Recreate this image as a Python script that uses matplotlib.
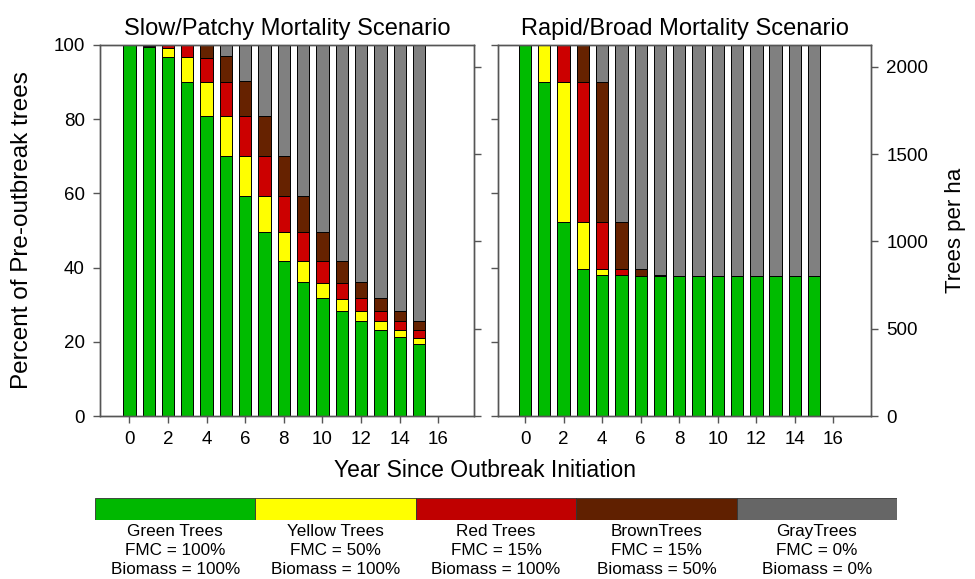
import matplotlib
matplotlib.use("Agg")
import matplotlib.pyplot as plt
import numpy as np

plt.rcParams['font.family'] = ['Liberation Sans', 'DejaVu Sans']

years = list(range(16))

# slow / patchy scenario (percent of pre-outbreak trees)
slow_green = [100, 99.5, 96.7, 90.1, 80.8, 70.2, 59.2, 49.5, 41.9, 36.1, 31.9, 28.3, 25.6, 23.3, 21.3, 19.5]
slow_yellow = [0, 0.3, 2.6, 6.6, 9.1, 10.6, 11.0, 9.7, 7.6, 5.6, 3.9, 3.3, 2.6, 2.2, 1.8, 1.6]
slow_red = [0, 0.2, 0.7, 3.3, 6.6, 9.1, 10.6, 11.0, 9.7, 7.8, 5.9, 4.2, 3.6, 2.8, 2.5, 2.2]
slow_brown = [0, 0, 0, 0, 3.5, 7.0, 9.4, 10.6, 11.0, 9.7, 7.8, 6.1, 4.3, 3.5, 2.7, 2.3]
slow_gray = [0, 0, 0, 0, 0, 3.1, 9.8, 19.2, 29.8, 40.8, 50.5, 58.1, 63.9, 68.2, 71.7, 74.4]

# rapid / broad scenario
rapid_green = [100, 90.1, 52.2, 39.7, 38.1, 37.9, 37.8, 37.8, 37.8, 37.8, 37.8, 37.8, 37.8, 37.8, 37.8, 37.8]
rapid_yellow = [0, 9.9, 37.7, 12.5, 1.4, 0, 0, 0, 0, 0, 0, 0, 0, 0, 0, 0]
rapid_red = [0, 0, 10.1, 37.7, 12.7, 1.6, 0, 0, 0, 0, 0, 0, 0, 0, 0, 0]
rapid_brown = [0, 0, 0, 10.1, 37.9, 12.7, 1.9, 0.3, 0, 0, 0, 0, 0, 0, 0, 0]
rapid_gray = [0, 0, 0, 0, 9.9, 47.8, 60.3, 61.9, 62.2, 62.2, 62.2, 62.2, 62.2, 62.2, 62.2, 62.2]

class_names = ['Green Trees', 'Yellow Trees', 'Red Trees', 'BrownTrees', 'GrayTrees']
class_fmc = ['FMC = 100%', 'FMC = 50%', 'FMC = 15%', 'FMC = 15%', 'FMC = 0%']
class_biomass = ['Biomass = 100%', 'Biomass = 100%', 'Biomass = 100%', 'Biomass = 50%', 'Biomass = 0%']

bar_colors = ['#00bb00', '#ffff00', '#cc0000', '#662200', '#808080']
legend_colors = ['#00b800', '#ffff00', '#c00000', '#602000', '#666666']

trees_max = 2125  # trees per ha equal to 100 %

spine_col = '#555555'
fig = plt.figure(figsize=(9.75, 5.79), dpi=100)


def draw_panel(rect, series, title, xlim, left_labels, right_labels):
    ax = fig.add_axes(rect)
    bottom = np.zeros(len(years))
    for vals, col in zip(series, bar_colors):
        vals = np.array(vals, dtype=float)
        ax.bar(years, vals, bottom=bottom, width=0.64, color=col,
               edgecolor='black', linewidth=0.7, zorder=2)
        bottom += vals
    ax.set_xlim(*xlim)
    ax.set_ylim(0, 100)
    ax.set_xticks(range(0, 17, 2))
    ax.set_yticks(range(0, 101, 20))
    ax.tick_params(axis='both', direction='out', length=5, width=1,
                   color=spine_col, labelsize=13.5, pad=6)
    if not left_labels:
        ax.set_yticklabels([])
    ax.set_title(title, fontsize=17, pad=7)

    ax2 = ax.twinx()
    ax2.set_ylim(0, trees_max)
    ax2.set_yticks(range(0, 2001, 500))
    ax2.tick_params(axis='y', direction='out', length=5, width=1,
                    color=spine_col, labelsize=13.5, pad=6)
    if not right_labels:
        ax2.set_yticklabels([])
    for a in (ax, ax2):
        for s in a.spines.values():
            s.set_color(spine_col)
            s.set_linewidth(1)
    return ax, ax2


axL, axL2 = draw_panel([0.1026, 0.2815, 0.3836, 0.6408],
                       [slow_green, slow_yellow, slow_red, slow_brown, slow_gray],
                       'Slow/Patchy Mortality Scenario', (-1.52, 17.85), True, False)
axR, axR2 = draw_panel([0.5108, 0.2815, 0.3826, 0.6408],
                       [rapid_green, rapid_yellow, rapid_red, rapid_brown, rapid_gray],
                       'Rapid/Broad Mortality Scenario', (-1.4, 17.95), False, True)

axL.set_ylabel('Percent of Pre-outbreak trees', fontsize=17.5)
axL.yaxis.set_label_coords(-0.178, 0.5)
axR2.set_ylabel('Trees per ha', fontsize=16, labelpad=12)
fig.text(0.497, 0.188, 'Year Since Outbreak Initiation', fontsize=16.5,
         ha='center', va='center')

# colour key at the bottom
axK = fig.add_axes([95 / 975, 1 - 520 / 579, 802 / 975, 22 / 579])
for i, col in enumerate(legend_colors):
    axK.barh(0, 1, left=i, height=1, color=col, edgecolor='#333333', linewidth=0.6)
    axK.text(i + 0.5, -0.7, class_names[i] + '\n' + class_fmc[i] + '\n' + class_biomass[i],
             ha='center', va='top', fontsize=12.3, linespacing=1.3)
axK.set_xlim(0, 5)
axK.set_ylim(-0.5, 0.5)
axK.axis('off')

fig.savefig('out.png', dpi=100)
